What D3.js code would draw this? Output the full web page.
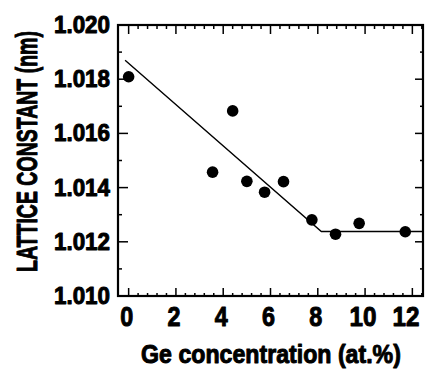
<!DOCTYPE html>
<html>
<head>
<meta charset="utf-8">
<script src="https://cdn.jsdelivr.net/npm/d3@7"></script>
<style>
  html, body { margin: 0; padding: 0; background: #fff; }
  svg { display: block; }
  text { font-family: "Liberation Sans", Arial, sans-serif; font-weight: bold; fill: #000; stroke: #000; stroke-width: 1px; stroke-linejoin: round; }
</style>
</head>
<body>
<div id="chart"></div>
<script>
// measured points: Ge concentration (at.%) vs lattice constant (nm)
const geConc = [0.0, 3.55, 4.4, 5.0, 5.75, 6.55, 7.75, 8.75, 9.75, 11.7];
const latticeConst = [1.01809, 1.01457, 1.01683, 1.01423, 1.01383, 1.01422, 1.01281, 1.01228, 1.01268, 1.01237];

// fitted line (linear decrease, then flat)
const fitX = [-0.15, 8.15, 12.45];
const fitY = [1.0187, 1.01238, 1.01238];

const xTicks = [0, 2, 4, 6, 8, 10, 12];
const yTicks = [1.010, 1.012, 1.014, 1.016, 1.018, 1.020];

const W = 425, H = 370;
const svg = d3.select("#chart").append("svg").attr("width", W).attr("height", H);

const x = d3.scaleLinear().domain([-0.45, 12.45]).range([118, 423]);
const y = d3.scaleLinear().domain([1.010, 1.020]).range([296, 25]);

const xMinor = d3.range(0, 12.41, 0.4).filter(v => Math.abs(v / 2 - Math.round(v / 2)) > 0.01);
const yMinor = d3.range(1.011, 1.0200, 0.002);

// squeeze a text horizontally (in its own frame) so it is `w` wide: condensed look
function condensed(g, px, py, rot, str, size, w, anchor) {
  const t = g.append("text").attr("font-size", size).attr("text-anchor", anchor).text(str);
  const s = Math.min(1, w / t.node().getComputedTextLength());
  t.attr("transform", `translate(${px},${py}) rotate(${rot}) scale(${s},1)`);
  return t;
}

const tickG = svg.append("g").attr("stroke", "#000").attr("stroke-width", 1.5);

// bottom / top ticks, pointing inward
xTicks.forEach(v => {
  tickG.append("line").attr("x1", x(v)).attr("x2", x(v)).attr("y1", y(1.010)).attr("y2", y(1.010) - 8);
  tickG.append("line").attr("x1", x(v)).attr("x2", x(v)).attr("y1", y(1.020)).attr("y2", y(1.020) + 9);
});
xMinor.forEach(v => {
  tickG.append("line").attr("x1", x(v)).attr("x2", x(v)).attr("y1", y(1.010)).attr("y2", y(1.010) - 3);
  tickG.append("line").attr("x1", x(v)).attr("x2", x(v)).attr("y1", y(1.020)).attr("y2", y(1.020) + 4);
});
// left / right ticks
yTicks.forEach(v => {
  tickG.append("line").attr("x1", 118).attr("x2", 128).attr("y1", y(v)).attr("y2", y(v));
  tickG.append("line").attr("x1", 423).attr("x2", 415).attr("y1", y(v)).attr("y2", y(v));
});
yMinor.forEach(v => {
  tickG.append("line").attr("x1", 118).attr("x2", 122).attr("y1", y(v)).attr("y2", y(v));
  tickG.append("line").attr("x1", 423).attr("x2", 420).attr("y1", y(v)).attr("y2", y(v));
});

// frame
svg.append("rect")
  .attr("x", x.range()[0]).attr("y", y.range()[1])
  .attr("width", x.range()[1] - x.range()[0])
  .attr("height", y.range()[0] - y.range()[1])
  .attr("fill", "none").attr("stroke", "#000").attr("stroke-width", 2.2);

// fit line
const fit = fitX.map((v, i) => [v, fitY[i]]);
svg.append("path")
  .attr("d", d3.line().x(d => x(d[0])).y(d => y(d[1]))(fit))
  .attr("fill", "none").attr("stroke", "#000").attr("stroke-width", 1.4);

// data points
svg.append("g").selectAll("circle")
  .data(geConc.map((v, i) => [v, latticeConst[i]]))
  .join("circle")
  .attr("cx", d => x(d[0])).attr("cy", d => y(d[1]))
  .attr("r", 5.8).attr("fill", "#000");

// tick labels
const labelG = svg.append("g");
yTicks.forEach(v => condensed(labelG, 110, y(v) + 8, 0, v.toFixed(3), 24, 56, "end"));
xTicks.forEach(v => {
  const str = String(v);
  condensed(labelG, Math.min(x(v) - 2, 406), 326, 0, str, 28, str.length > 1 ? 27 : 13, "middle");
});

// axis titles
condensed(svg, 271, 363, 0, "Ge concentration (at.%)", 26, 260, "middle");
condensed(svg, 37, 151.5, -90, "LATTICE CONSTANT (nm)", 29, 241, "middle");
</script>
</body>
</html>
